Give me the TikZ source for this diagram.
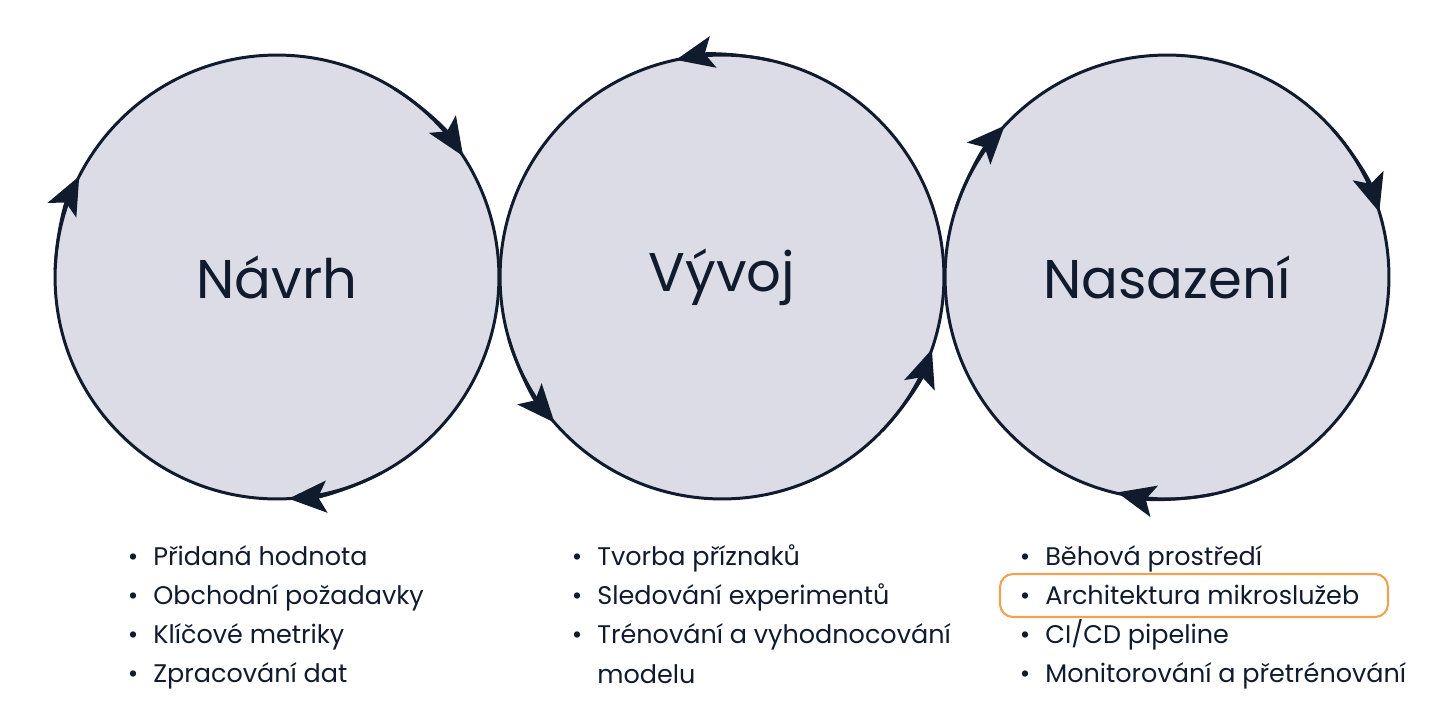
\documentclass[tikz,border=0pt]{standalone}
\usepackage{fontspec}
\setmainfont{Poppins}
\usetikzlibrary{arrows.meta,positioning}
\definecolor{cnavy}{HTML}{101B2E}
\definecolor{cfill}{HTML}{DCDCE6}
\definecolor{corange}{HTML}{EFA352}
\newcommand\bitem[1]{\llap{•\hspace{0.3cm}}#1}

\begin{document}
\begin{tikzpicture}[x=0.02cm,y=-0.02cm,
  phase/.style={circle,draw=cnavy,fill=cfill,line width=1.7pt,minimum size=8.88cm,
    inner sep=0pt,outer sep=0pt,text=cnavy,font=\fontsize{31}{36}\selectfont},
  cyc/.style={cnavy,line width=1.7pt,-{Stealth[length=0.76cm,width=0.64cm,inset=0.17cm]}},
  item/.style={anchor=base west,inner sep=0pt,text=cnavy,font=\fontsize{14.5}{17}\selectfont}]
 \useasboundingbox (0,0) rectangle (1440,720);
 % the three phases
 \node[phase] (navrh) at (277,277) {Návrh};
 \node[phase] (vyvoj) at (722,277) {Vývoj};
 \node[phase] (nasazeni) at (1167,277) {Nasazení};
 % cycle arrows (clockwise, anticlockwise, clockwise)
 \foreach \a in {33,153,-87}
  \draw[cyc] (navrh.\a+25) arc[start angle=\a+25,end angle=\a,radius=4.44cm];
 \foreach \a in {102,221,-19}
  \draw[cyc] (vyvoj.\a-25) arc[start angle=\a-25,end angle=\a,radius=4.44cm];
 \foreach \a in {137,17,-103.5}
  \draw[cyc] (nasazeni.\a+25) arc[start angle=\a+25,end angle=\a,radius=4.44cm];
 % lists
 \foreach \t [count=\i] in {Přidaná hodnota,Obchodní požadavky,Klíčové metriky,Zpracování dat}
  \node[item] (a\i) at (153,{565+39.3*(\i-1)}) {\bitem{\t}};
 \foreach \t [count=\i] in {Tvorba příznaků,Sledování experimentů,Trénování a vyhodnocování}
  \node[item] (b\i) at (597,{565+39.3*(\i-1)}) {\bitem{\t}};
 \node[item] (b4) at (597,683) {modelu};
 \foreach \t [count=\i] in {Běhová prostředí,Architektura mikroslužeb,CI/CD pipeline,Monitorování a přetrénování}
  \node[item] (c\i) at (1045,{565+39.3*(\i-1)}) {\bitem{\t}};
 % highlight
 \draw[corange,line width=1.2pt,rounded corners=0.26cm] (1000,574) rectangle (1388,617);
\end{tikzpicture}
\end{document}
